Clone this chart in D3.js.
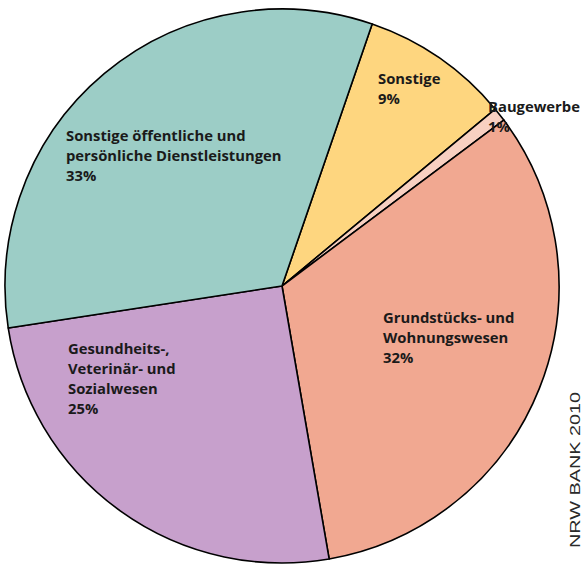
<!DOCTYPE html>
<html><head><meta charset="utf-8">
<script src="https://cdn.jsdelivr.net/npm/d3@7"></script>
<style>html,body{margin:0;padding:0;background:#fff;}svg{display:block;}</style>
</head><body>
<script>
const categories = ["Sonstige", "Baugewerbe", "Grundstücks- und Wohnungswesen", "Gesundheits-, Veterinär- und Sozialwesen", "Sonstige öffentliche und persönliche Dienstleistungen"];
const values = [8.7, 0.8, 32.5, 25.3, 32.7];
const percentLabels = ["9%", "1%", "32%", "25%", "33%"];
const labelLines = [["Sonstige"], ["Baugewerbe"], ["Grundstücks- und", "Wohnungswesen"], ["Gesundheits-,", "Veterinär- und", "Sozialwesen"], ["Sonstige öffentliche und", "persönliche Dienstleistungen"]];
const colors = ["#fed67f", "#f8d0c1", "#f1a891", "#c7a0cc", "#9ccdc6"];
const source = "NRW BANK 2010";

const W = 582, H = 565;
const cx = 282, cy = 286, R = 277;
const start = 19 * Math.PI / 180;
const labelPos = [[378, 83.5], [488, 111.5], [383, 322.5], [68, 353.5], [66, 140.5]];

const svg = d3.select("body").append("svg").attr("width", W).attr("height", H);
const pie = d3.pie().sort(null).value(d => d).startAngle(start).endAngle(start + 2 * Math.PI);
const arcs = pie(values);
const arc = d3.arc().innerRadius(0).outerRadius(R);
const g = svg.append("g").attr("transform", `translate(${cx},${cy})`);
g.selectAll("path").data(arcs).join("path")
  .attr("d", arc)
  .attr("fill", (d, i) => colors[i])
  .attr("stroke", "#000").attr("stroke-width", 1.6).attr("stroke-linejoin", "round");

const lg = svg.append("g").attr("font-family", "'Open Sans', sans-serif")
  .attr("font-weight", "bold").attr("font-size", 14.8).attr("fill", "#1a1a1a");
categories.forEach((c, i) => {
  const t = lg.append("text").attr("x", labelPos[i][0]).attr("y", labelPos[i][1]);
  const lines = labelLines[i].concat([percentLabels[i]]);
  lines.forEach((l, j) => {
    t.append("tspan").attr("x", labelPos[i][0]).attr("dy", j === 0 ? 0 : 20.3).text(l);
  });
});

svg.append("text").attr("transform", "translate(580,548) rotate(-90)")
  .attr("font-family", "'Liberation Sans', Arial, sans-serif").attr("font-size", 15)
  .attr("textLength", 156).attr("lengthAdjust", "spacingAndGlyphs")
  .attr("fill", "#2a2a2a").text(source);
</script>
</body></html>
